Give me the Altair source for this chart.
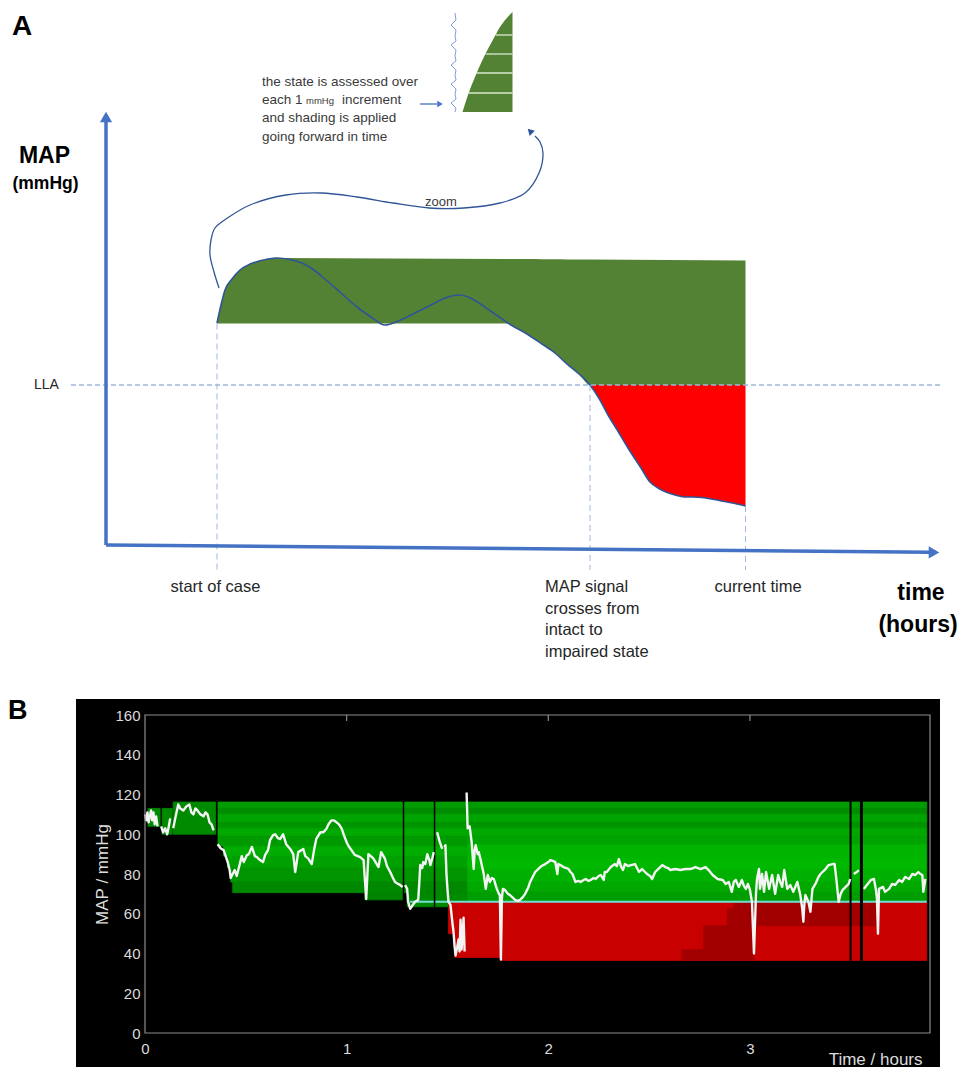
import altair as alt
import pandas as pd

# =====================================================================
# Panel A  (schematic; x = time position, y = MAP position, screen-like)
# =====================================================================
curve_x = [217, 221, 225, 232, 240, 250, 259, 268, 277, 290, 302, 314, 326, 341, 357, 371, 385,
           396, 407, 419, 431, 445, 459, 467, 474, 492, 511, 527, 542, 555, 567, 579, 590,
           600, 608, 616, 628, 641, 650, 658, 666, 675, 684, 693, 702, 714, 727, 737, 745.5]
curve_y = [323, 305, 290, 279, 270, 264, 261, 259, 258, 259.5, 263, 270, 280, 293, 307, 317, 325,
           322, 317, 311, 305, 298, 295, 296.5, 300, 312, 325, 334, 344, 353, 364, 374, 385,
           400, 415, 428, 448, 468, 482, 488, 492, 495, 497, 497, 497.5, 499.5, 502, 504, 506]

green_x = [217, 221, 225, 232, 240, 250, 259, 268, 277, 505, 511, 527, 542, 555, 567, 579, 590, 745.5]
green_top = [323, 305, 290, 279, 270, 264, 261, 259, 258, 259, 259, 259.1, 259.2, 259.3, 259.4, 259.5, 259.6, 260.5]
green_bot = [323.5, 323.5, 323.5, 323.5, 323.5, 323.5, 323.5, 323.5, 323.5, 323.5, 325, 334, 344, 353, 364, 374, 385, 385]

LLA_Y = 385
LLA_X = [71, 943]
vdash_x = [217, 590, 745.5]
vdash_top = [323.5, 385, 506]
vdash_bot = 570

axis_x0 = [106, 106]
axis_y0 = [545, 545]
axis_x1 = [106, 930]
axis_y1 = [122, 552.3]
head_x = [106, 934]
head_y = [117, 552.4]
head_shape = ["triangle-up", "triangle-right"]

zoom_x = [219, 214, 210, 211, 215, 229, 250, 286, 321, 357, 393, 429, 464, 500, 525, 539, 543, 540, 535]
zoom_y = [288, 272, 255, 240, 228, 217, 205, 195, 193, 197, 203, 208, 208, 203, 193, 173, 153, 142, 136]

inset_wave_x = [455, 456, 451, 456, 455, 456, 451, 456, 455, 456, 451, 456, 455, 456, 451, 456, 455, 456, 451, 456, 455]
inset_wave_y = [13, 20, 25, 30, 36, 41, 45, 50, 56, 61, 65, 70, 75, 80, 84, 89, 94, 99, 103, 108, 112]
inset_x = [462.5, 468, 475, 482, 489, 495, 500, 506, 512.5]
inset_top = [112, 95, 77, 61, 47, 36, 27, 19, 12]
inset_bottom = 112
inset_line_y = [35, 54, 73, 93]
inset_line_x0 = [496, 485.5, 476.5, 469]
inset_line_x1 = 512.5

note_lines = ["the state is assessed over", "and shading is applied", "going forward in time"]
note_y = [86, 122.3, 140.7]

# =====================================================================
# Panel B  (MAP trace, hours vs mmHg)
# =====================================================================
T_MAX = 3.893
T_END = 3.877
LLA_B = 66

# MAP trace (time h, MAP mmHg); None = gap in the recording
map_trace = [
    (0.0, 110), (0.006, 107), (0.012, 111), (0.018, 106), (0.024, 109), (0.03, 112), (0.036, 107),
    (0.042, 111), (0.048, 105), (0.055, 109), (0.062, 104), None,
    (0.08, 104), (0.09, 101), (0.10, 103), (0.11, 100), (0.118, 104), (0.125, 108), None,
    (0.14, 103), (0.15, 108), (0.165, 115), (0.175, 113), (0.19, 112), (0.205, 114), (0.22, 115),
    (0.23, 111), (0.24, 110), (0.25, 113), (0.26, 112), (0.275, 110), (0.29, 109), (0.30, 111),
    (0.31, 110), (0.32, 106), (0.33, 105), (0.34, 102), None,
    (0.36, 95), (0.375, 93), (0.39, 92), (0.40, 89), (0.41, 86), (0.42, 82), (0.425, 78), (0.435, 80),
    (0.445, 82), (0.455, 79), (0.465, 83), (0.48, 89), (0.49, 86), (0.505, 89.4), (0.515, 90),
    (0.53, 93.6), (0.545, 89), (0.555, 88.5), (0.57, 87), (0.585, 86), (0.596, 89.6), (0.61, 92),
    (0.62, 97), (0.635, 99.6), (0.645, 100), (0.66, 98), (0.67, 97.6), (0.685, 100), (0.70, 95),
    (0.72, 92.6), (0.735, 90), (0.745, 81), (0.76, 91), (0.785, 92.6), (0.795, 89), (0.81, 87.7),
    (0.827, 85), (0.84, 93), (0.85, 97.8), (0.87, 101), (0.885, 101), (0.90, 102.8), (0.91, 105),
    (0.925, 107), (0.935, 107), (0.95, 106), (0.962, 105), (0.975, 103), (0.985, 100), (1.0, 96),
    (1.01, 94), (1.02, 92.6), (1.04, 89.6), (1.055, 89), (1.067, 88.5), (1.084, 87), (1.097, 67.4),
    (1.108, 90), (1.12, 89), (1.133, 87.7), (1.158, 83.5), (1.171, 91), (1.19, 87.7), (1.2, 84),
    (1.216, 81), (1.23, 78), (1.24, 76), (1.255, 75), (1.265, 74.5), (1.278, 73.5), None,
    (1.29, 74.5), (1.30, 72.5), (1.305, 66), (1.315, 62.5), (1.325, 64), (1.34, 66), (1.355, 67),
    (1.36, 75), (1.365, 84.5), (1.375, 83), (1.38, 86), (1.39, 85), (1.40, 90), (1.41, 87),
    (1.415, 84.5), (1.425, 88), (1.432, 91), None,
    (1.449, 101), (1.462, 96), (1.474, 92.6), None,
    (1.485, 93.5), (1.49, 94.5), (1.495, 80), (1.50, 72.5), (1.505, 66), (1.515, 64.5), (1.525, 55),
    (1.53, 51), (1.535, 44), (1.54, 39), (1.548, 43), (1.555, 47), (1.56, 41), (1.565, 57),
    (1.57, 42), (1.575, 49), (1.58, 58), (1.585, 41), None,
    (1.595, 121), (1.597, 114), (1.60, 103), (1.61, 104), (1.62, 96), (1.63, 82.5), (1.635, 92),
    (1.64, 94.5), (1.65, 90), (1.655, 91), (1.665, 87), (1.67, 84.5), (1.68, 80), (1.69, 72.5),
    (1.70, 79.5), (1.71, 76), (1.72, 78), (1.73, 77.5), (1.74, 74), (1.745, 72.5), (1.755, 70),
    (1.76, 69.4), (1.765, 37), (1.77, 68), (1.775, 72.5), (1.785, 72), (1.80, 70), (1.81, 69.4),
    (1.825, 68), (1.835, 67), (1.85, 66.5), (1.86, 67), (1.875, 68.5), (1.885, 70), (1.90, 73),
    (1.91, 76), (1.925, 79), (1.935, 81), (1.95, 82.5), (1.96, 83.5), (1.975, 84.5), (1.985, 85),
    (2.0, 86), (2.01, 87), (2.025, 86.5), (2.035, 86), (2.045, 80), (2.05, 85), (2.06, 84.5),
    (2.075, 83.5), (2.09, 83), (2.10, 82.5), (2.11, 81), (2.12, 80), (2.135, 76), (2.15, 76.5),
    (2.16, 76), (2.175, 77), (2.185, 77.5), (2.20, 76.5), (2.21, 77), (2.225, 78), (2.235, 77.5),
    (2.25, 79), (2.26, 79.5), (2.275, 77), (2.28, 81), (2.29, 81), (2.31, 83.5), (2.33, 85),
    (2.34, 84), (2.35, 87.5), (2.36, 84), (2.37, 82), (2.38, 85), (2.395, 84), (2.41, 84.5),
    (2.43, 85), (2.44, 83), (2.45, 81), (2.465, 82.5), (2.48, 81), (2.49, 80), (2.505, 79),
    (2.515, 77.5), (2.53, 81), (2.545, 82.5), (2.565, 84.5), (2.58, 83.5), (2.595, 83), (2.605, 82),
    (2.63, 82.5), (2.655, 82), (2.68, 82.5), (2.705, 82.5), (2.73, 83.5), (2.755, 82.5), (2.78, 83.5),
    (2.795, 82), (2.815, 79.5), (2.84, 77.5), (2.865, 77), (2.88, 75), (2.895, 76), (2.91, 71),
    (2.92, 76), (2.93, 77), (2.945, 73.5), (2.96, 77), (2.97, 74), (2.98, 72.5), (2.99, 75),
    (3.0, 72), (3.01, 66), (3.02, 40), (3.03, 70), (3.035, 77.5), (3.045, 82.5), (3.05, 72.5),
    (3.06, 80), (3.07, 71), (3.08, 81), (3.095, 72.5), (3.11, 79.5), (3.125, 70), (3.14, 79.5),
    (3.15, 76), (3.16, 73.5), (3.17, 82), (3.185, 72.5), (3.20, 74.5), (3.215, 71), (3.235, 76),
    (3.25, 69.4), (3.26, 62), (3.265, 56), (3.27, 65), (3.275, 69.4), (3.29, 66), (3.30, 61),
    (3.31, 72.5), (3.325, 75), (3.34, 78.5), (3.35, 80), (3.36, 81), (3.375, 82.5), (3.39, 84.5),
    (3.41, 85), (3.42, 85), (3.43, 76), (3.44, 66), (3.45, 70), (3.46, 72), (3.475, 73.5),
    (3.49, 75), (3.497, 77.5), None,
    (3.515, 80), (3.53, 81), (3.54, 82), None,
    (3.565, 72.5), (3.58, 74.5), (3.60, 77), (3.615, 77.5), (3.625, 72), (3.63, 67.5), (3.635, 50),
    (3.64, 72.5), (3.66, 73.5), (3.67, 71), (3.69, 72.5), (3.705, 75), (3.72, 74.5), (3.74, 77),
    (3.755, 76), (3.77, 78.5), (3.79, 77.5), (3.805, 80), (3.82, 79.5), (3.835, 81), (3.845, 80),
    (3.855, 79.5), (3.86, 71), (3.87, 77.5),
]

# intact (green) shading blocks: start, end, lower, upper MAP, shade
blk_t0 = [0.015, 0.085, 0.14, 1.09, 1.30, 1.505]
blk_t1 = [0.075, 0.135, 0.35, 1.28, 1.505, 1.60]
blk_lo = [104, 100, 100, 67, 63.5, 66]
blk_hi = [113, 113, 116.2, 70.6, 70.6, 70.6]
blk_c = ["#008a00", "#008a00", "#008a00", "#008400", "#008a00", "#008c00"]

# 1-mmHg-band striping of the main intact region (left part / right part)
band_lo = [113, 110, 106, 103, 99, 94, 89, 83, 76, 70.6]
band_hi = [116.2, 113, 110, 106, 103, 99, 94, 89, 83, 76]
band_start = [0.362, 0.362, 0.362, 0.362, 0.362, 0.362, 0.39, 0.41, 0.425, 0.435]
band_left_c = ["#009c00", "#008e00", "#00a400", "#009400", "#00a800", "#009a00", "#00ac00", "#00a000", "#009400", "#008800"]
band_right_lo = [113, 110, 106, 103, 99, 95, 88, 82, 76, 71, 66]
band_right_hi = [116.2, 113, 110, 106, 103, 99, 95, 88, 82, 76, 71]
band_right_c = ["#009c00", "#008e00", "#00a400", "#009400", "#00a800", "#00a400", "#00b400", "#00b800", "#00b000", "#00a800", "#009e00"]
BAND_SPLIT = 1.60

# impaired (red) shading
red_t0 = [1.505, 1.535, 1.765]
red_t1 = [1.535, 1.765, T_END]
red_lo = [50, 38, 36.5]
dark_t0 = [2.663, 2.77, 2.887, 2.92]
dark_t1 = [3.02, 3.02, 3.63, 3.63]
dark_lo = [36.5, 42, 54, 62.5]
dark_hi = [42, 54, 62.5, 66]

gap_t = [1.282, 1.436, 3.499, 3.553]
gap_lo = [66.5, 63, 36.3, 36.3]
gap_w = [1.5, 1.5, 2.0, 3.0]

x_ticks = [0, 1, 2, 3]
y_ticks = [0, 20, 40, 60, 80, 100, 120, 140, 160]

# =====================================================================
# Build panel A  (its plot origin is shared with panel B's plot origin)
# =====================================================================
A_X0, A_X1, A_Y0, A_Y1 = 145, 958, 8, 697
WA, HA = A_X1 - A_X0, A_Y1 - A_Y0
sxA = alt.Scale(domain=[A_X0, A_X1], nice=False, zero=False)
syA = alt.Scale(domain=[A_Y0, A_Y1], nice=False, zero=False, reverse=True)


def XA(f):
    return alt.X(f, type="quantitative", scale=sxA, axis=None)


def YA(f):
    return alt.Y(f, type="quantitative", scale=syA, axis=None)


BLUE = "#4472c4"
DBLUE = "#2f5597"
DASH = "#9fb5da"
FONT = "Liberation Sans"

df_green = pd.DataFrame({"x": green_x, "top": green_top, "bot": green_bot})
green_area = alt.Chart(df_green).mark_area(color="#548235", interpolate="monotone", orient="vertical").encode(
    x=XA("x"), y=YA("top"), y2=alt.Y2("bot"))

red_pts = [(x, y) for x, y in zip(curve_x, curve_y) if x >= 590]
df_red = pd.DataFrame({"x": [p[0] for p in red_pts], "bot": [p[1] for p in red_pts], "top": LLA_Y})
red_area = alt.Chart(df_red).mark_area(color="#ff0000", interpolate="monotone", orient="vertical").encode(
    x=XA("x"), y=YA("top"), y2=alt.Y2("bot"))

df_curve = pd.DataFrame({"x": curve_x, "y": curve_y})
curve_line = alt.Chart(df_curve).mark_line(color=DBLUE, strokeWidth=1.6, interpolate="monotone").encode(
    x=XA("x"), y=YA("y"))

df_lla = pd.DataFrame({"x": [LLA_X[0]], "x2": [LLA_X[1]], "y": [LLA_Y]})
lla_rule = alt.Chart(df_lla).mark_rule(color=DASH, strokeWidth=1.3, strokeDash=[5, 3]).encode(
    x=XA("x"), x2="x2", y=YA("y"))

df_vd = pd.DataFrame({"x": vdash_x, "y": vdash_top, "y2": vdash_bot})
vd_rules = alt.Chart(df_vd).mark_rule(color=DASH, strokeWidth=1, strokeDash=[6, 4]).encode(
    x=XA("x"), y=YA("y"), y2="y2")

df_ax = pd.DataFrame({"x": axis_x0, "y": axis_y0, "x2": axis_x1, "y2": axis_y1})
ax_rules = alt.Chart(df_ax).mark_rule(color=BLUE, strokeWidth=3.5).encode(
    x=XA("x"), y=YA("y"), x2="x2", y2="y2")

df_heads = pd.DataFrame({"x": head_x, "y": head_y, "s": head_shape})
ax_heads = alt.Chart(df_heads).mark_point(filled=True, color=BLUE, opacity=1, size=150).encode(
    x=XA("x"), y=YA("y"), shape=alt.Shape("s:N", scale=None))

df_zoom = pd.DataFrame({"x": zoom_x, "y": zoom_y, "i": list(range(len(zoom_x)))})
zoom_line = alt.Chart(df_zoom).mark_line(color=DBLUE, strokeWidth=1.3, interpolate="catmull-rom").encode(
    x=XA("x"), y=YA("y"), order="i:Q")
df_zhead = pd.DataFrame({"x": [zoom_x[-1] - 5], "y": [zoom_y[-1] - 5]})
zoom_head = alt.Chart(df_zhead).mark_point(shape="triangle-up", angle=315, filled=True, color=DBLUE,
                                           opacity=1, size=55).encode(x=XA("x"), y=YA("y"))

df_wave = pd.DataFrame({"x": inset_wave_x, "y": inset_wave_y, "i": list(range(len(inset_wave_x)))})
wave_line = alt.Chart(df_wave).mark_line(color="#7f9fd5", strokeWidth=1).encode(
    x=XA("x"), y=YA("y"), order="i:Q")
df_inset = pd.DataFrame({"x": inset_x, "top": inset_top, "bot": inset_bottom})
inset_area = alt.Chart(df_inset).mark_area(color="#548235", interpolate="monotone", orient="vertical").encode(
    x=XA("x"), y=YA("top"), y2=alt.Y2("bot"))
df_il = pd.DataFrame({"x": inset_line_x0, "x2": inset_line_x1, "y": inset_line_y})
inset_lines = alt.Chart(df_il).mark_rule(color="#d9e8cf", strokeWidth=1.3).encode(
    x=XA("x"), x2="x2", y=YA("y"))

df_sarrow = pd.DataFrame({"x": [420], "x2": [437], "y": [104]})
small_arrow = alt.Chart(df_sarrow).mark_rule(color=BLUE, strokeWidth=1.3).encode(x=XA("x"), x2="x2", y=YA("y"))
df_shead = pd.DataFrame({"x": [440], "y": [104]})
small_head = alt.Chart(df_shead).mark_point(shape="triangle-right", filled=True, color=BLUE, opacity=1,
                                            size=40).encode(x=XA("x"), y=YA("y"))


def texts(xs, ys, labels, **kw):
    d = pd.DataFrame({"x": xs, "y": ys, "t": labels})
    return alt.Chart(d).mark_text(**kw).encode(x=XA("x"), y=YA("y"), text="t:N")


t_A = texts([12], [35], ["A"], font=FONT, fontSize=28, fontWeight="bold", align="left",
            baseline="alphabetic", color="black")
t_map = texts([44.5], [163], ["MAP"], font=FONT, fontSize=23, fontWeight="bold", align="center",
              baseline="alphabetic", color="black")
t_mmhg = texts([45.5], [189], ["(mmHg)"], font=FONT, fontSize=17.5, fontWeight="bold", align="center",
               baseline="alphabetic", color="black")
t_note = texts([262, 262, 262], note_y, note_lines, font=FONT, fontSize=13.5, align="left",
               baseline="alphabetic", color="#3a3a3a")
t_note2 = texts([262, 342], [104, 104], ["each 1", "increment"], font=FONT, fontSize=13.5, align="left",
                baseline="alphabetic", color="#3a3a3a")
t_note3 = texts([306], [104], ["mmHg"], font=FONT, fontSize=9.5, align="left",
                baseline="alphabetic", color="#3a3a3a")
t_zoom = texts([441], [202], ["zoom"], font=FONT, fontSize=13, align="center", baseline="middle",
               color="#3a3a3a")
t_lla = texts([34], [385], ["LLA"], font=FONT, fontSize=14, align="left", baseline="middle", color="#262626")
t_lab_c = texts([215.5, 758], [587, 587], ["start of case", "current time"], font=FONT, fontSize=16.5,
                align="center", baseline="middle", color="#262626")
t_lab_l = texts([545, 545, 545, 545], [587, 608.5, 630, 651.5],
                ["MAP signal", "crosses from", "intact to", "impaired state"], font=FONT, fontSize=16.5,
                align="left", baseline="middle", color="#262626")
t_time = texts([921, 918], [593, 625], ["time", "(hours)"], font=FONT, fontSize=23, fontWeight="bold",
               align="center", baseline="middle", color="black")

panel_a = alt.layer(
    green_area, red_area, curve_line, lla_rule, vd_rules, ax_rules, ax_heads, zoom_line, zoom_head,
    wave_line, inset_area, inset_lines, small_arrow, small_head,
    t_A, t_map, t_mmhg, t_note, t_note2, t_note3, t_zoom, t_lla, t_lab_c, t_lab_l, t_time,
).properties(width=WA, height=HA)

# =====================================================================
# Build panel B
# =====================================================================
WB, HB = 785, 318
sxB = alt.Scale(domain=[0, T_MAX], nice=False, zero=False)
syB = alt.Scale(domain=[0, 160], nice=False, zero=False)
LBL = "#dcdcdc"
ax_xB = alt.Axis(values=x_ticks, format="d", grid=False, domain=False, ticks=False, labelFlush=False,
                 labelColor=LBL, labelFont=FONT, labelFontSize=15, labelPadding=8, zindex=2,
                 title="Time / hours", titleColor=LBL, titleFont=FONT, titleFontSize=17,
                 titleFontWeight="normal", titleAnchor="end", titleAlign="right", titleX=777,
                 titleY=31, titleBaseline="alphabetic")
ax_yB = alt.Axis(values=y_ticks, format="d", grid=False, domain=False, ticks=False, zindex=2,
                 labelColor=LBL, labelFont=FONT, labelFontSize=15, labelPadding=5,
                 title="MAP / mmHg", titleColor=LBL, titleFont=FONT, titleFontSize=17,
                 titleFontWeight="normal", titleX=-43, titleY=HB / 2, titleBaseline="middle",
                 titleAngle=270)


def XB(f):
    return alt.X(f, type="quantitative", scale=sxB, axis=ax_xB)


def YB(f):
    return alt.Y(f, type="quantitative", scale=syB, axis=ax_yB)


bg = alt.Chart(pd.DataFrame({"a": [0]})).mark_rect(color="black").encode(
    x=alt.value(-69), x2=alt.value(WB + 10), y=alt.value(-16), y2=alt.value(HB + 34))

rows = []
for a, b, lo, hi, c in zip(blk_t0, blk_t1, blk_lo, blk_hi, blk_c):
    rows.append((a, b, lo, hi, c))
for lo, hi, s, c in zip(band_lo, band_hi, band_start, band_left_c):
    rows.append((s, BAND_SPLIT, lo, hi, c))
for lo, hi, c in zip(band_right_lo, band_right_hi, band_right_c):
    rows.append((BAND_SPLIT, T_END, lo, hi, c))
for a, b, lo in zip(red_t0, red_t1, red_lo):
    rows.append((a, b, lo, LLA_B, "#c80000"))
for a, b, lo, hi in zip(dark_t0, dark_t1, dark_lo, dark_hi):
    rows.append((a, b, lo, hi, "#a20000"))
df_rect = pd.DataFrame(rows, columns=["t0", "t1", "lo", "hi", "c"])
rects = alt.Chart(df_rect).mark_rect(strokeWidth=0.8).encode(
    x=XB("t0"), x2="t1", y=YB("lo"), y2="hi",
    color=alt.Color("c:N", scale=None), stroke=alt.Stroke("c:N", scale=None))

df_llab = pd.DataFrame({"t0": [1.315], "t1": [T_END], "v": [LLA_B]})
lla_b = alt.Chart(df_llab).mark_rule(color="#74dcd6", strokeWidth=2).encode(x=XB("t0"), x2="t1", y=YB("v"))

df_gap = pd.DataFrame({"t": gap_t, "lo": gap_lo, "hi": 117, "w": gap_w})
gaps = alt.Chart(df_gap).mark_rule(color="black").encode(
    x=XB("t"), y=YB("lo"), y2="hi", strokeWidth=alt.StrokeWidth("w:Q", scale=None))

seg, ts, vs, segs = 0, [], [], []
for p in map_trace:
    if p is None:
        seg += 1
        continue
    ts.append(p[0])
    vs.append(p[1])
    segs.append(seg)
df_sig = pd.DataFrame({"t": ts, "v": vs, "seg": segs})
signal = alt.Chart(df_sig).mark_line(color="#f4f4f4", strokeWidth=2.4, strokeJoin="round").encode(
    x=XB("t"), y=YB("v"), detail="seg:N")

df_frame = pd.DataFrame({"t0": [0], "t1": [T_MAX], "lo": [0], "hi": [160]})
frame = alt.Chart(df_frame).mark_rect(fillOpacity=0, stroke="#8c8c8c", strokeWidth=1.2).encode(
    x=XB("t0"), x2="t1", y=YB("lo"), y2="hi")

df_tt = pd.DataFrame({"t": x_ticks[1:], "lo": 157, "hi": 160})
top_ticks = alt.Chart(df_tt).mark_rule(color="#8c8c8c", strokeWidth=1.2).encode(x=XB("t"), y=YB("lo"), y2="hi")

b_label = alt.Chart(pd.DataFrame({"a": [0]})).mark_text(
    text="B", font=FONT, fontSize=27, fontWeight="bold", align="left", baseline="alphabetic",
    color="black").encode(x=alt.value(-137), y=alt.value(4))

panel_b = alt.layer(bg, rects, lla_b, gaps, signal, frame, top_ticks, b_label).properties(width=WB, height=HB)

chart = alt.vconcat(panel_a, panel_b, spacing=0).properties(padding=0).configure_view(strokeWidth=0)

chart.save("out.html", embed_options={"renderer": "svg", "actions": False})
